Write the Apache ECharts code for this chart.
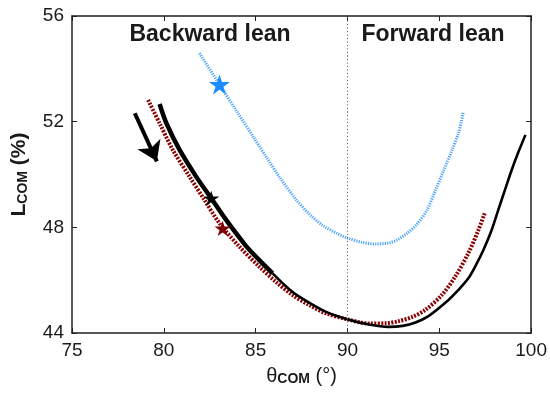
<!DOCTYPE html>
<html>
<head>
<meta charset="utf-8">
<script src="https://cdn.jsdelivr.net/npm/echarts@6/dist/echarts.min.js"></script>
<style>
html,body{margin:0;padding:0;background:#fff;}
#chart{width:550px;height:395px;}
</style>
</head>
<body>
<div id="chart"></div>
<script>
// ---- data ----
const xTicks = [75, 80, 85, 90, 95, 100];
const yTicks = [44, 48, 52, 56];
const blueCurve = [[81.94,54.59],[83.03,53.41],[84.0,52.36],[84.92,51.37],[85.6,50.64],[86.28,49.92],[87.19,49.06],[88.0,48.45],[88.7,48.05],[89.4,47.78],[89.9,47.62],[90.8,47.43],[91.52,47.37],[92.24,47.41],[92.69,47.52],[93.24,47.77],[93.78,48.12],[94.32,48.64],[94.78,49.38],[95.23,50.14],[95.68,50.9],[96.04,51.56],[96.31,52.38]];
const redCurve = [[79.14,52.82],[79.77,51.94],[80.49,50.93],[81.40,49.92],[82.21,49.04],[83.03,48.15],[84.1,47.28],[85.2,46.51],[86.10,45.94],[87.0,45.44],[87.91,45.06],[88.81,44.75],[89.98,44.52],[91.2,44.36],[92.1,44.37],[92.8,44.45],[93.5,44.6],[94.23,44.87],[95.14,45.44],[95.86,46.13],[96.58,47.02],[97.13,47.9],[97.47,48.53]];
const blackThick = [[79.77,52.67],[80.14,51.94],[80.86,50.93],[81.76,49.92],[82.58,49.10],[83.39,48.28],[84.47,47.3],[85.2,46.76],[85.92,46.26]];
const blackThin = [[85.92,46.26],[87.0,45.56],[87.91,45.15],[88.81,44.81],[89.98,44.52],[91.16,44.32],[92.24,44.23],[93.0,44.27],[93.7,44.4],[94.41,44.64],[95.50,45.25],[96.0,45.6],[96.58,46.07],[96.95,46.51],[97.40,47.14],[97.85,47.9],[98.21,48.66],[98.57,49.41],[98.93,50.15],[99.29,50.82],[99.69,51.5]];
const blueStar = [83.03, 53.41];
const blackStar = [82.58, 49.10];
const redStar = [83.2, 47.96];
const arrowStart = [78.42, 52.32];
const arrowEnd = [79.62, 50.5];
const dividerX = 90;
const regionLabels = ["Backward lean", "Forward lean"];

const STAR = 'path://M50,0 L61.2,34.5 L97.6,34.5 L68.2,55.9 L79.4,90.5 L50,69.1 L20.6,90.5 L31.8,55.9 L2.4,34.5 L38.8,34.5 Z';
const AX = '#231f20';
const FONT = 'Liberation Sans, Arial, Helvetica, sans-serif';

const chart = echarts.init(document.getElementById('chart'), null, {renderer:'canvas'});
const axisCommon = {
  type: 'value',
  splitLine: {show:false},
  axisLine: {show:true, onZero:false, lineStyle:{color:AX, width:1.5}},
  axisTick: {show:true, inside:true, length:5, lineStyle:{color:AX, width:1}},
};
chart.setOption({
  animation: false,
  grid: {left:72, right:17, top:16, bottom:62, containLabel:false},
  xAxis: [
    Object.assign({}, axisCommon, {
      position:'bottom', min:xTicks[0], max:xTicks[xTicks.length-1], interval:5,
      axisLabel:{show:true, fontSize:19, color:'#1a1a1a', fontFamily:FONT, margin:8},
      name:'{t|θ}{s|COM}{t| (°)}', nameLocation:'middle', nameGap:33,
      nameTextStyle:{rich:{
        t:{fontSize:20, fontFamily:FONT, color:'#1a1a1a'},
        s:{fontSize:14, fontWeight:'bold', fontFamily:FONT, color:'#1a1a1a', verticalAlign:'bottom'}
      }}
    }),
    Object.assign({}, axisCommon, {
      position:'top', min:xTicks[0], max:xTicks[xTicks.length-1], interval:5,
      axisLabel:{show:false}
    })
  ],
  yAxis: [
    Object.assign({}, axisCommon, {
      position:'left', min:yTicks[0], max:yTicks[yTicks.length-1], interval:4,
      axisLabel:{show:true, fontSize:19, color:'#1a1a1a', fontFamily:FONT, margin:8},
      name:'{t|L}{s|COM}{t| (%)}', nameLocation:'middle', nameGap:42, nameRotate:90,
      nameTextStyle:{rich:{
        t:{fontSize:21, fontWeight:'bold', fontFamily:FONT, color:'#1a1a1a'},
        s:{fontSize:14, fontWeight:'bold', fontFamily:FONT, color:'#1a1a1a', verticalAlign:'bottom'}
      }}
    }),
    Object.assign({}, axisCommon, {
      position:'right', min:yTicks[0], max:yTicks[yTicks.length-1], interval:4,
      axisLabel:{show:false}
    })
  ],
  series: [
    {
      type:'line', data:blueCurve, smooth:0.3, showSymbol:false, symbol:'none',
      lineStyle:{color:'#4da3ff', width:3, type:[1.2,1.2], cap:'butt'},
      markLine:{
        silent:true, symbol:'none', label:{show:false},
        lineStyle:{color:'#555', width:1, type:[1,2.5]},
        data:[{xAxis:dividerX}]
      },
      z:2
    },
    {
      type:'line', data:redCurve, smooth:0.3, showSymbol:false, symbol:'none',
      lineStyle:{color:'#8b0000', width:4, type:[2,1.4], cap:'butt'}, z:3
    },
    {
      type:'line', data:blackThick, smooth:0.3, showSymbol:false, symbol:'none',
      lineStyle:{color:'#000', width:4.5, cap:'butt'}, z:4
    },
    {
      type:'line', data:blackThin, smooth:0.3, showSymbol:false, symbol:'none',
      lineStyle:{color:'#000', width:2.6}, z:4
    },
    {
      type:'lines', coordinateSystem:'cartesian2d', polyline:false,
      symbol:['none','arrow'], symbolSize:[18,19],
      lineStyle:{color:'#000', width:4, opacity:1, curveness:0},
      data:[{coords:[arrowStart, arrowEnd]}], z:5
    },
    {
      type:'scatter', data:[blueStar], symbol:STAR, symbolSize:21, symbolKeepAspect:true,
      itemStyle:{color:'#1a8cff', opacity:1}, z:6
    },
    {
      type:'scatter', data:[blackStar], symbol:STAR, symbolSize:16, symbolKeepAspect:true,
      itemStyle:{color:'#000', opacity:1}, z:6
    },
    {
      type:'scatter', data:[redStar], symbol:STAR, symbolSize:16, symbolKeepAspect:true,
      itemStyle:{color:'#7a0000', opacity:1}, z:6
    }
  ],
  graphic: [
    {type:'text', x:210, y:35, style:{text:regionLabels[0], fontSize:23, fontWeight:'bold', fontFamily:FONT, fill:'#1a1a1a', textAlign:'center', textVerticalAlign:'middle'}},
    {type:'text', x:433, y:35, style:{text:regionLabels[1], fontSize:23, fontWeight:'bold', fontFamily:FONT, fill:'#1a1a1a', textAlign:'center', textVerticalAlign:'middle'}}
  ]
});
</script>
</body>
</html>
